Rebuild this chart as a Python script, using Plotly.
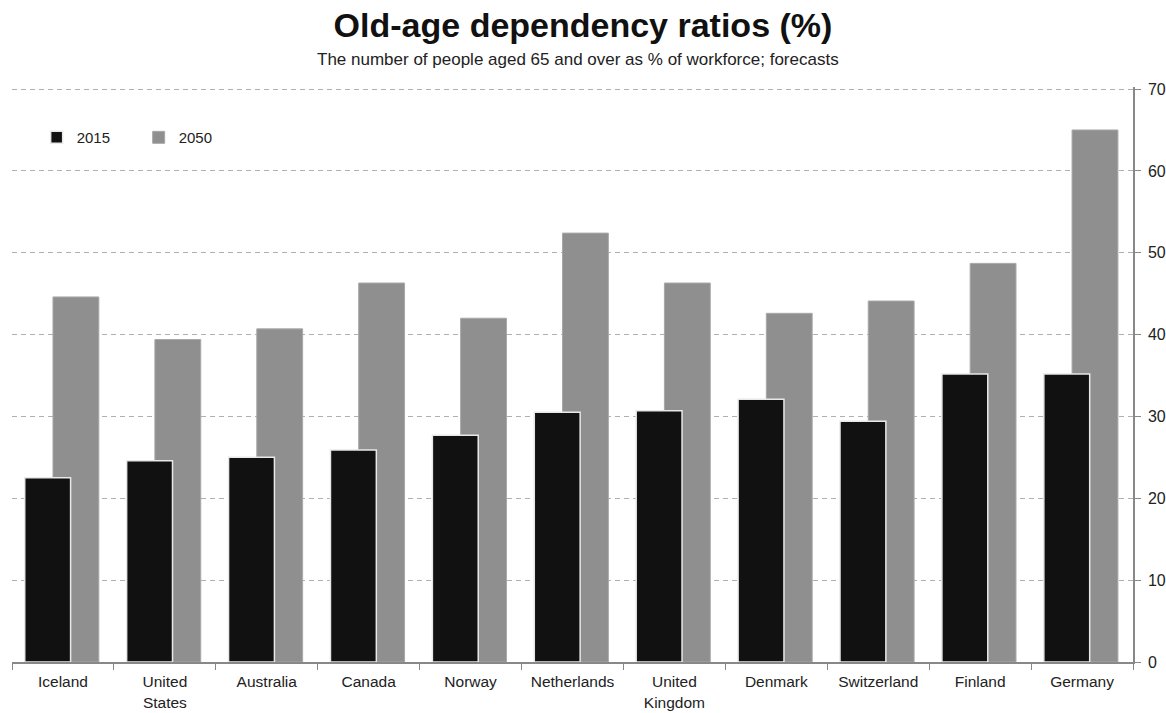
import plotly.graph_objects as go

countries = ["Iceland", "United<br>States", "Australia", "Canada", "Norway", "Netherlands",
             "United<br>Kingdom", "Denmark", "Switzerland", "Finland", "Germany"]
values_2015 = [22.5, 24.6, 25.0, 25.9, 27.7, 30.5, 30.7, 32.1, 29.4, 35.2, 35.2]
values_2050 = [44.6, 39.4, 40.7, 46.3, 42.0, 52.4, 46.3, 42.6, 44.1, 48.7, 65.0]
y_ticks = [0, 10, 20, 30, 40, 50, 60, 70]

FONT = "Liberation Sans, Arial, sans-serif"

fig = go.Figure()
fig.add_trace(go.Bar(
    x=countries, y=values_2050, name="2050",
    marker=dict(color="#8f8f8f", line=dict(color="#a8a8a8", width=1)),
    offset=-0.098, width=0.45, legendrank=2,
))
fig.add_trace(go.Bar(
    x=countries, y=values_2015, name="2015",
    marker=dict(color="#111111", line=dict(color="#e8e8e8", width=1.5)),
    offset=-0.375, width=0.45, legendrank=1,
))

fig.update_layout(
    width=1166, height=713,
    margin=dict(l=12, r=33, t=87, b=51),
    paper_bgcolor="white", plot_bgcolor="white",
    barmode="overlay",
    font=dict(family=FONT, color="#222222", size=14),
    title=dict(
        text="<b>Old-age dependency ratios (%)</b>",
        x=0.5, xanchor="center", y=0.965, yanchor="middle",
        font=dict(size=34, color="#111111", family=FONT),
    ),
    showlegend=True,
    legend=dict(
        orientation="h", x=0.022, xanchor="left", y=0.912, yanchor="middle",
        font=dict(size=15, color="#222222"), bgcolor="rgba(0,0,0,0)",
        entrywidth=57, entrywidthmode="pixels",
    ),
    xaxis=dict(
        type="category", range=[-0.5, 10.5], automargin=False,
        showline=True, linecolor="#888888", linewidth=1.5,
        ticks="outside", ticklen=6, tickcolor="#888888", tickson="boundaries",
        showgrid=False, tickfont=dict(size=15.5, color="#222222"),
        ticklabelstandoff=5,
        fixedrange=True,
    ),
    yaxis=dict(
        side="right", range=[0, 70.25], tickvals=y_ticks, automargin=False,
        showline=True, linecolor="#888888", linewidth=1.5,
        ticks="outside", ticklen=6, tickcolor="#888888",
        ticklabelstandoff=4,
        showgrid=True, gridcolor="#b0b0b0", griddash="5px,4px", gridwidth=1,
        zeroline=False, tickfont=dict(size=16, color="#222222"),
    ),
    annotations=[dict(
        text="The number of people aged 65 and over as % of workforce; forecasts",
        xref="paper", yref="paper", x=0.505, y=1.0, yanchor="bottom", xanchor="center",
        yshift=16, showarrow=False, font=dict(size=17, color="#222222"),
    )],
)

fig.write_html("out.html")
